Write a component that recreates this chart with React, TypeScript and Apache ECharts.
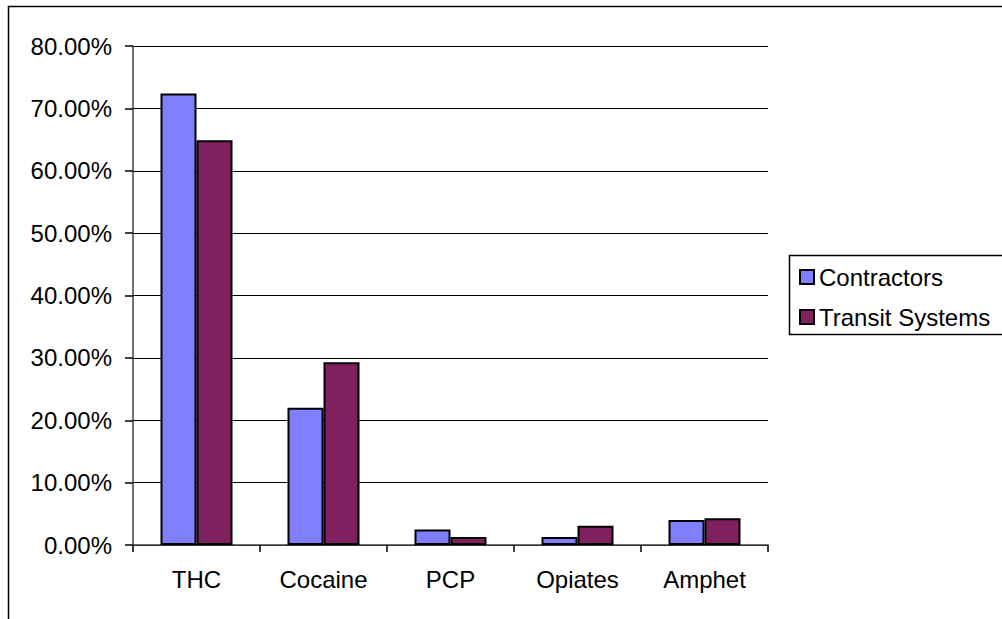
import React, { useEffect, useRef } from "react";
import * as echarts from "echarts";

const categories = ["THC", "Cocaine", "PCP", "Opiates", "Amphet"];
const contractors = [0.724, 0.22, 0.025, 0.013, 0.04];
const transitSystems = [0.649, 0.293, 0.013, 0.031, 0.043];
const seriesNames = ["Contractors", "Transit Systems"];
const seriesColors = ["#8080FF", "#80205F"];

const FONT = "'Liberation Sans', Arial, sans-serif";

export default function App() {
  const ref = useRef<HTMLDivElement>(null);
  useEffect(() => {
    if (!ref.current) return;
    const chart = echarts.init(ref.current, null, { renderer: "svg" });
    chart.setOption({
      animation: false,
      backgroundColor: "#ffffff",
      textStyle: { fontFamily: FONT },
      grid: { left: 133, top: 46, right: 234, bottom: 74, containLabel: false },
      graphic: [
        {
          type: "rect",
          z: -10,
          shape: { x: 8.5, y: 6.5, width: 1200, height: 800 },
          style: { fill: "none", stroke: "#000", lineWidth: 1.5 },
        },
        {
          type: "rect",
          z: 1,
          shape: { x: 789.5, y: 255.5, width: 300, height: 79 },
          style: { fill: "#fff", stroke: "#000", lineWidth: 1.5 },
        },
      ],
      legend: {
        orient: "vertical",
        left: 794,
        top: 260,
        z: 5,
        itemWidth: 14,
        itemHeight: 14,
        itemGap: 16,
        icon: "rect",
        textStyle: { fontFamily: FONT, fontSize: 24, color: "#000", lineHeight: 24 },
        data: seriesNames,
      },
      xAxis: {
        type: "category",
        data: categories,
        axisLine: { lineStyle: { color: "#404040", width: 1.5 } },
        axisTick: { show: true, length: 7, lineStyle: { color: "#000", width: 1.5 } },
        axisLabel: { fontFamily: FONT, fontSize: 24, color: "#000", margin: 22 },
      },
      yAxis: {
        type: "value",
        min: 0,
        max: 0.8,
        interval: 0.1,
        axisLine: { show: true, lineStyle: { color: "#404040", width: 1.5 } },
        axisTick: { show: true, length: 8, lineStyle: { color: "#000", width: 1.5 } },
        splitLine: { show: true, lineStyle: { color: "#000", width: 1.2 } },
        axisLabel: {
          fontFamily: FONT,
          fontSize: 24,
          color: "#000",
          margin: 21,
          formatter: (v: number) => (v * 100).toFixed(2) + "%",
        },
      },
      series: [
        {
          name: seriesNames[0],
          type: "bar",
          data: contractors,
          barWidth: 36,
          barGap: "0%",
          itemStyle: { color: seriesColors[0], borderColor: "#000", borderWidth: 2 },
        },
        {
          name: seriesNames[1],
          type: "bar",
          data: transitSystems,
          barWidth: 36,
          barGap: "0%",
          itemStyle: { color: seriesColors[1], borderColor: "#000", borderWidth: 2 },
        },
      ],
    });
    return () => chart.dispose();
  }, []);
  return (
    <div
      ref={ref}
      style={{ position: "fixed", left: 0, top: 0, width: 1002, height: 619, background: "#fff" }}
    />
  );
}
